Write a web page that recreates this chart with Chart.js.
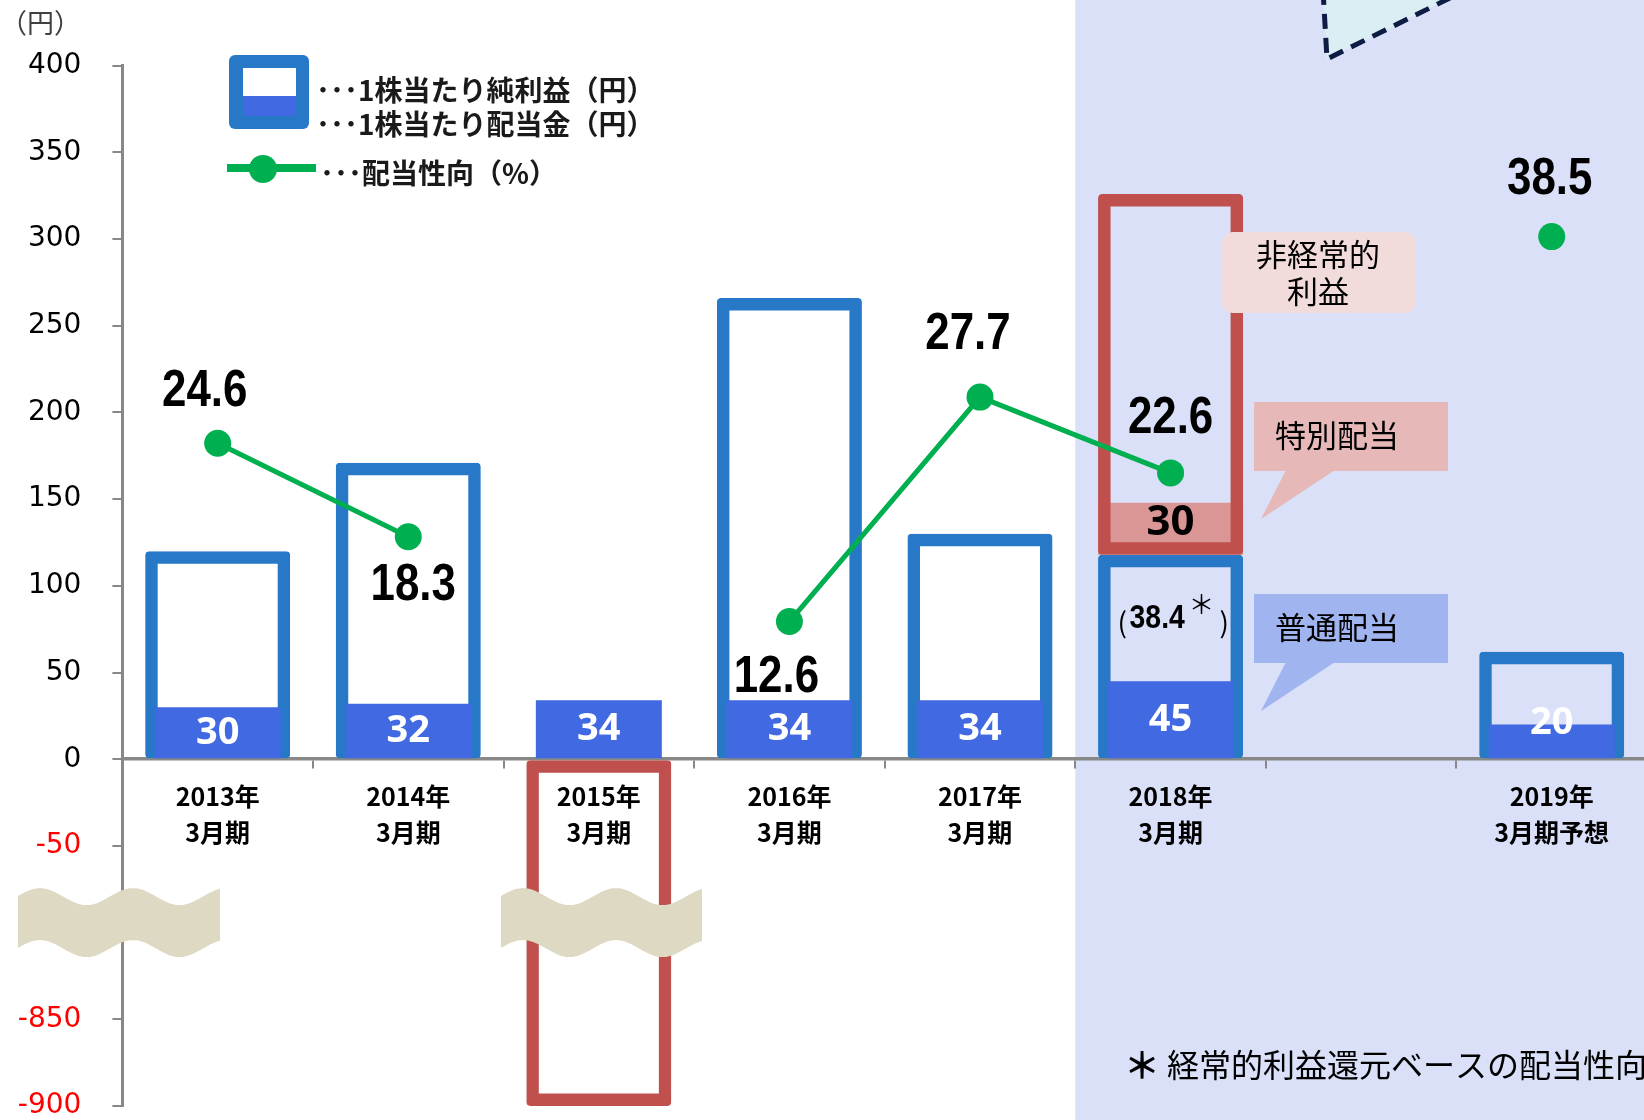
<!DOCTYPE html>
<html lang="ja">
<head>
<meta charset="utf-8">
<title>1株当たり純利益・配当金・配当性向</title>
<script src="https://cdn.jsdelivr.net/npm/chart.js@4.4.1/dist/chart.umd.min.js"></script>
<style>
  html, body { margin: 0; padding: 0; background: #fff; overflow: hidden; }
  #wrap { position: relative; width: 1648px; height: 1120px; }
</style>
</head>
<body>
<div id="wrap"><canvas id="dividendChart"></canvas></div>
<script>
const categories = [
  ['2013年', '3月期'], ['2014年', '3月期'], ['2015年', '3月期'], ['2016年', '3月期'],
  ['2017年', '3月期'], ['2018年', '3月期'], '', ['2019年', '3月期予想']
];
// 1株当たり純利益（円） 2018年は経常的利益分
const eps = [120, 171, -900, 266, 130, 118, null, 62];
// 非経常的利益分（円）
const epsExtraordinary = [null, null, null, null, null, 208, null, null];
// 1株当たり配当金（円）
const dividend = [30, 32, 34, 34, 34, 45, null, 20];
const specialDividend = [null, null, null, null, null, 30, null, null];
// 配当性向（%）
const payoutRatio = [24.6, 18.3, null, 12.6, 27.7, 22.6, null, 38.5];
const ordinaryPayout2018 = '38.4';

// 縦軸は -50 と -850 の間を省略
const BREAK_SHIFT = 700;
const toAxis = v => (v <= -800 ? v + BREAK_SHIFT : v);
const fromAxis = v => (v < -100 ? v - BREAK_SHIFT : v);

// ラベル位置（点からのずれ）
const payoutLabelOffset = [[-13, -51], [5, 49], null, [-13, 56], [-12, -62], [0, -54], null, [-2, -57]];

const BLUE_LINE = '#2878C8';
const BLUE_FILL = '#4169E1';
const RED_LINE = '#C0504D';
const GREEN = '#00B050';
const JP = '"Noto Sans CJK JP", "Noto Sans", sans-serif';
const NUM = '"Liberation Sans", Arial, sans-serif';

const epsBlue = eps.map(v => (v != null && v >= 0 ? v : null));
const epsRed = eps.map((v, i) => {
  if (v != null && v < 0) return [0, toAxis(v)];
  if (epsExtraordinary[i] != null) return [v, v + epsExtraordinary[i]];
  return null;
});
const specialBars = specialDividend.map((v, i) => (v == null ? null : [eps[i], eps[i] + v]));

// 横に詰めた数字
function narrowText(ctx, text, x, y, squeeze) {
  ctx.save();
  ctx.translate(x, y);
  ctx.scale(squeeze, 1);
  ctx.fillText(text, 0, 0);
  ctx.restore();
}

const backdrop = {
  id: 'backdrop',
  beforeDraw(chart) {
    const { ctx, scales: { x } } = chart;
    const half = (x.getPixelForValue(1) - x.getPixelForValue(0)) / 2;
    const left = x.getPixelForValue(5) - half;
    ctx.save();
    ctx.fillStyle = '#D9E0F7';
    ctx.fillRect(left, 0, chart.width - left, chart.height);

    ctx.beginPath();
    ctx.moveTo(1323, -10);
    ctx.lineTo(1327, 59);
    ctx.lineTo(1462, -8);
    ctx.closePath();
    ctx.fillStyle = '#DAEEF3';
    ctx.fill();
    ctx.beginPath();
    ctx.moveTo(1323, -10);
    ctx.lineTo(1327, 59);
    ctx.lineTo(1462, -8);
    ctx.setLineDash([15, 9]);
    ctx.lineWidth = 5;
    ctx.strokeStyle = '#0E1C44';
    ctx.stroke();
    ctx.restore();
  }
};

function waveBand(ctx, x0, x1, top, thick) {
  const amp = 8.5, period = 93;
  const yAt = xx => top - amp * Math.cos(2 * Math.PI * (xx - x0 - 22) / period);
  ctx.beginPath();
  ctx.moveTo(x0, yAt(x0));
  for (let xx = x0; xx <= x1; xx += 2) ctx.lineTo(xx, yAt(xx));
  ctx.lineTo(x1, yAt(x1));
  for (let xx = x1; xx >= x0; xx -= 2) ctx.lineTo(xx, yAt(xx) + thick);
  ctx.lineTo(x0, yAt(x0) + thick);
  ctx.closePath();
  ctx.fill();
}

const labels = {
  id: 'labels',
  afterDatasetsDraw(chart) {
    const ctx = chart.ctx;
    ctx.save();
    ctx.textAlign = 'center';
    ctx.textBaseline = 'middle';

    // 配当金
    ctx.fillStyle = '#fff';
    ctx.font = 'bold 38px "Noto Sans", sans-serif';
    chart.getDatasetMeta(3).data.forEach((bar, i) => {
      if (dividend[i] == null) return;
      const h = bar.base - bar.y;
      const y = h >= 50 ? (bar.y + bar.base) / 2 : bar.base - 35;
      ctx.fillText(String(dividend[i]), bar.x, y);
    });

    // 特別配当
    ctx.fillStyle = '#000';
    ctx.font = 'bold 42px "Noto Sans", sans-serif';
    chart.getDatasetMeta(1).data.forEach((bar, i) => {
      if (specialDividend[i] == null) return;
      ctx.fillText(String(specialDividend[i]), bar.x, (bar.y + bar.base) / 2 - 6);
    });

    // 配当性向
    ctx.font = 'bold 51px ' + NUM;
    chart.getDatasetMeta(4).data.forEach((pt, i) => {
      if (payoutRatio[i] == null) return;
      const [dx, dy] = payoutLabelOffset[i];
      narrowText(ctx, payoutRatio[i].toFixed(1), pt.x + dx, pt.y + dy, 0.86);
    });

    // 経常的利益ベースの配当性向
    const cx = chart.scales.x.getPixelForValue(5);
    ctx.textAlign = 'left';
    ctx.font = '28px ' + JP;
    ctx.fillText('(', cx - 53, 622);
    ctx.fillText(')', cx + 49, 622);
    ctx.font = 'bold 33px ' + NUM;
    narrowText(ctx, ordinaryPayout2018, cx - 41, 619, 0.86);
    ctx.textAlign = 'center';
    ctx.font = '26px ' + JP;
    ctx.fillText('＊', cx + 31, 604);
    ctx.restore();
  },
  afterDraw(chart) {
    const { ctx, scales: { y } } = chart;
    ctx.save();

    // 省略記号
    ctx.fillStyle = '#DDD9C3';
    const top = y.getPixelForValue(-100) - 36;
    waveBand(ctx, 18, 220, top, 52);
    waveBand(ctx, 501, 702, top, 52);

    ctx.textBaseline = 'middle';
    ctx.fillStyle = '#404040';
    ctx.font = '27px ' + JP;
    ctx.fillText('（円）', 0, 23);

    // 凡例
    ctx.fillStyle = BLUE_LINE;
    ctx.beginPath();
    ctx.roundRect(229, 55, 80, 74, 6);
    ctx.fill();
    ctx.fillStyle = '#fff';
    ctx.fillRect(243, 68, 53, 28);
    ctx.fillStyle = BLUE_FILL;
    ctx.fillRect(243, 96, 53, 20);
    ctx.strokeStyle = GREEN;
    ctx.lineWidth = 8;
    ctx.beginPath();
    ctx.moveTo(227, 168);
    ctx.lineTo(316, 168);
    ctx.stroke();
    ctx.fillStyle = GREEN;
    ctx.beginPath();
    ctx.arc(263, 169, 14, 0, Math.PI * 2);
    ctx.fill();
    ctx.fillStyle = '#1a1a1a';
    ctx.font = 'bold 28px ' + JP;
    ctx.fillText('･･･1株当たり純利益（円）', 316, 90);
    ctx.fillText('･･･1株当たり配当金（円）', 316, 124);
    ctx.fillText('･･･配当性向（%）', 320, 173);

    // 注記
    ctx.fillStyle = '#F2DCDB';
    ctx.beginPath();
    ctx.roundRect(1222, 232, 194, 81, 11);
    ctx.fill();
    ctx.fillStyle = '#000';
    ctx.font = '31px ' + JP;
    ctx.textAlign = 'center';
    ctx.fillText('非経常的', 1318, 254);
    ctx.fillText('利益', 1318, 291);

    const callout = (color, top, text) => {
      ctx.fillStyle = color;
      ctx.fillRect(1254, top, 194, 69);
      ctx.beginPath();
      ctx.moveTo(1286, top + 68);
      ctx.lineTo(1335, top + 68);
      ctx.lineTo(1261, top + 117);
      ctx.closePath();
      ctx.fill();
      ctx.fillStyle = '#000';
      ctx.textAlign = 'left';
      ctx.fillText(text, 1275, top + 33);
    };
    callout('#E6B9B8', 402, '特別配当');
    callout('#A0B5EF', 594, '普通配当');

    ctx.font = 'bold 36px ' + JP;
    ctx.textAlign = 'center';
    ctx.fillText('＊', 1142, 1065);
    ctx.textAlign = 'left';
    ctx.font = '32px ' + JP;
    ctx.fillText('経常的利益還元ベースの配当性向', 1167, 1065);
    ctx.restore();
  }
};

const barBase = { grouped: false, categoryPercentage: 1, borderSkipped: false };

new Chart(document.getElementById('dividendChart'), {
  type: 'bar',
  data: {
    labels: categories,
    datasets: [
      Object.assign({
        label: '1株当たり純利益（円）',
        data: epsBlue,
        backgroundColor: 'rgba(0,0,0,0)',
        borderColor: BLUE_LINE,
        borderWidth: 12.5,
        borderRadius: 4,
        barPercentage: 0.761,
        order: 4
      }, barBase),
      Object.assign({
        label: '特別配当',
        data: specialBars,
        backgroundColor: '#DA9694',
        borderWidth: 0,
        barPercentage: 0.761,
        order: 3
      }, barBase),
      Object.assign({
        label: '非経常的利益',
        data: epsRed,
        backgroundColor: 'rgba(0,0,0,0)',
        borderColor: RED_LINE,
        borderWidth: 12.5,
        borderRadius: 4,
        barPercentage: 0.761,
        order: 2
      }, barBase),
      Object.assign({
        label: '1株当たり配当金（円）',
        data: dividend,
        backgroundColor: BLUE_FILL,
        borderWidth: 0,
        barPercentage: 0.661,
        order: 1
      }, barBase),
      {
        type: 'line',
        label: '配当性向（%）',
        data: payoutRatio,
        yAxisID: 'y2',
        borderColor: GREEN,
        borderWidth: 5,
        pointRadius: 13.5,
        pointBackgroundColor: GREEN,
        pointBorderWidth: 0,
        spanGaps: false,
        tension: 0,
        order: 0
      }
    ]
  },
  options: {
    responsive: true,
    maintainAspectRatio: false,
    animation: false,
    layout: { autoPadding: false, padding: { top: 65.7, bottom: 14, left: 0, right: 1 } },
    plugins: { legend: { display: false }, tooltip: { enabled: false } },
    scales: {
      x: {
        position: { y: 0 },
        offset: true,
        afterFit: scale => {
          scale.height = 0;
          scale.paddingLeft = 0;
          scale.paddingRight = 0;
        },
        grid: { offset: true, drawOnChartArea: false, drawTicks: true, tickLength: 8, color: '#888', lineWidth: 2 },
        border: { display: true, color: '#888', width: 3.5 },
        ticks: {
          color: '#000',
          padding: 11,
          autoSkip: false,
          maxRotation: 0,
          font: { family: JP, size: 25, weight: 'bold', lineHeight: '36px' }
        }
      },
      y: {
        position: 'left',
        min: -200,
        max: 400,
        afterFit: scale => {
          scale.width = 122.4;
          scale.paddingTop = 0;
          scale.paddingBottom = 0;
        },
        grid: { drawOnChartArea: false, drawTicks: true, tickLength: 10, color: '#888', lineWidth: 2 },
        border: { display: true, color: '#888', width: 3 },
        ticks: {
          stepSize: 50,
          autoSkip: false,
          padding: 31,
          color: c => (c.tick && c.tick.value < 0 ? '#FF0000' : '#000'),
          font: { family: '"DejaVu Sans", sans-serif', size: 28, lineHeight: 1 },
          callback: v => (v === -100 ? null : String(fromAxis(v)))
        }
      },
      y2: {
        display: false,
        position: 'right',
        min: -20,
        max: 50
      }
    }
  },
  plugins: [backdrop, labels]
});
</script>
</body>
</html>
